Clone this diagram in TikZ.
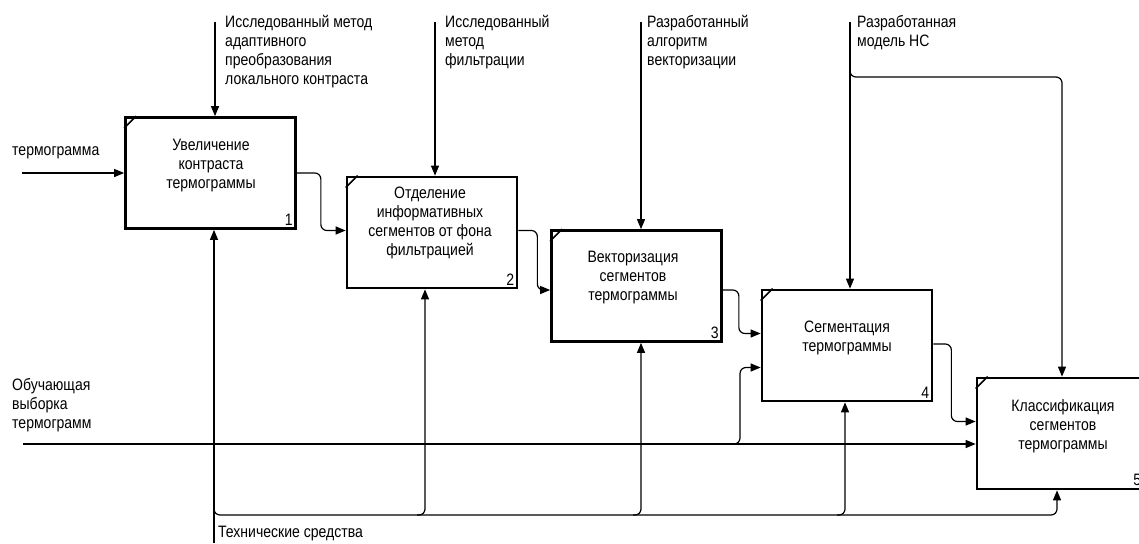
\documentclass[tikz,border=0pt]{standalone}
\usepackage{fontspec}
\setmainfont{Liberation Sans}[FakeStretch=0.85]
\usetikzlibrary{arrows.meta,positioning}
\tikzset{
	func/.style={draw, line width=2.7pt, minimum width=170pt, minimum height=111pt, inner sep=0pt},
	ftext/.style={align=center, inner sep=0pt},
	lbl/.style={anchor=north west, inner sep=0pt, align=left},
	idx/.style={anchor=south east, inner sep=0pt},
	flow/.style={line width=1.2pt, rounded corners=6pt, -{Triangle[length=10pt,width=8pt]}}
}
\begin{document}
\begin{tikzpicture}[x=1pt,y=-1pt,font=\fontsize{16.5}{19}\selectfont]
	\useasboundingbox (0,0) rectangle (1139,543);
	% functions
	\node[func] (b1) at (210.5,173) {};
	\node[func] (b2) at (432,232.5) {};
	\node[func] (b3) at (636.5,286) {};
	\node[func] (b4) at (847,345.5) {};
	\node[func] (b5) at (1062,433.5) {};
	\foreach \b/\n/\dx in {b1/1/4,b2/2/4,b3/3/4,b4/4/4,b5/5/7}{
		\draw[line width=1.6pt] ([yshift=-12pt]\b.north west) -- ([xshift=12pt]\b.north west);
		\node[idx] at ([xshift=-\dx pt,yshift=4pt]\b.south east) {\n};
	}
	\node[ftext] (t1) at (211,166) {Увеличение\\контраста\\термограммы};
	\node[ftext] (t2) at (430,223) {Отделение\\информативных\\сегментов от фона\\фильтрацией};
	\node[ftext] (t3) at (633,278) {Векторизация\\сегментов\\термограммы};
	\node[ftext] (t4) at (847,338) {Сегментация\\термограммы};
	\node[ftext] (t5) at (1063,426) {Классификация\\сегментов\\термограммы};
	% labels
	\node[lbl] (ctl1) at (225,15) {Исследованный метод\\адаптивного\\преобразования\\локального контраста};
	\node[lbl] (ctl2) at (445,15) {Исследованный\\метод\\фильтрации};
	\node[lbl] (ctl3) at (647,15) {Разработанный\\алгоритм\\векторизации};
	\node[lbl] (ctl4) at (857,15) {Разработанная\\модель НС};
	\node[lbl] (inp1) at (12,146) {термограмма};
	\node[lbl] (inp2) at (12,378) {Обучающая\\выборка\\термограмм};
	\node[lbl] (mech) at (218,526) {Технические средства};
	% controls
	\coordinate (c1) at (215,22);
	\coordinate (c2) at (435,22);
	\coordinate (c3) at (641,22);
	\coordinate (c4) at (850,22);
	\coordinate (c4b) at (850,69);
	\coordinate (hook) at (1062,77);
	\draw[flow] (c1) -- (c1 |- b1.north);
	\draw[flow] (c2) -- (c2 |- b2.north);
	\draw[flow] (c3) -- (c3 |- b3.north);
	\draw[flow] (c4) -- (c4 |- b4.north);
	\draw[flow] (c4b) |- (hook) -- (b5.north);
	% inputs
	\coordinate (in1) at (22,173);
	\coordinate (ob) at (23,444);
	\coordinate (obs) at (728,444);
	\coordinate (obt) at (740,400);
	\draw[flow] (in1) -- (b1.west);
	\draw[flow] (ob) -- (ob -| b5.west);
	\draw[flow] (obs) -| (obt) |- ([yshift=-22pt]b4.west);
	% outputs
	\draw[flow] (b1.east) -- ++(24,0) |- ([yshift=2pt]b2.west);
	\draw[flow] ([yshift=2pt]b2.east) -- ++(19,0) |- ([yshift=-4pt]b3.west);
	\draw[flow] ([yshift=-4pt]b3.east) -- ++(16,0) |- ([yshift=12pt]b4.west);
	\draw[flow] ([yshift=1.5pt]b4.east) -- ++(18,0) |- ([yshift=12pt]b5.west);
	% mechanisms
	\coordinate (m0) at (214,543);
	\coordinate (m1) at (214,505);
	\coordinate (mline) at (214,515);
	\coordinate (m2) at ([xshift=-7pt]b2.south);
	\coordinate (m3) at ([xshift=4.5pt]b3.south);
	\coordinate (m4) at ([xshift=-2pt]b4.south);
	\coordinate (m5) at ([xshift=-5pt]b5.south);
	\coordinate (j2) at (417,515);
	\coordinate (j3) at (633,515);
	\coordinate (j4) at (837,515);
	\draw[flow] (m0) -- (m0 |- b1.south);
	\draw[flow] (m1) |- (mline -| m5) -- (m5);
	\draw[flow] (j2) -| (m2);
	\draw[flow] (j3) -| (m3);
	\draw[flow] (j4) -| (m4);
\end{tikzpicture}
\end{document}
